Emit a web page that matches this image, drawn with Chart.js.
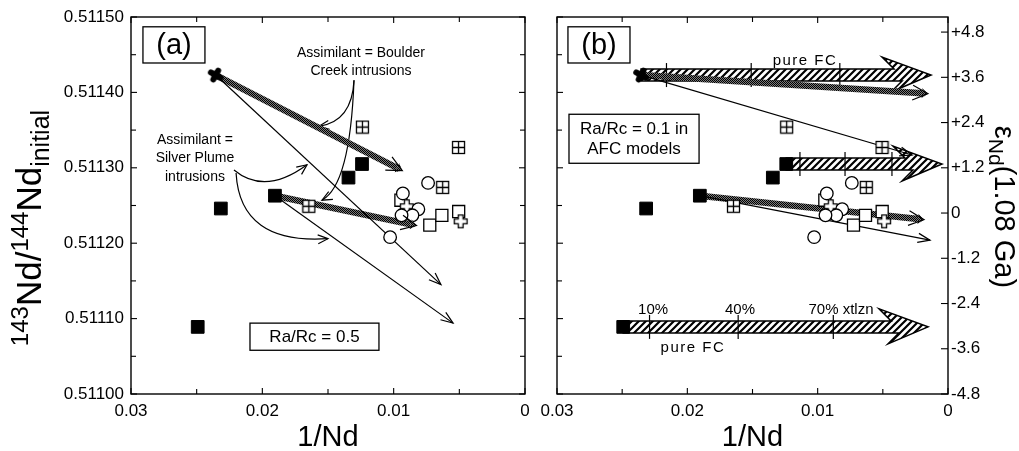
<!DOCTYPE html>
<html><head><meta charset="utf-8">
<script src="https://cdn.jsdelivr.net/npm/chart.js@4.4.1/dist/chart.umd.min.js"></script>
<style>
html,body{margin:0;padding:0;background:#fff;}
#wrap{position:relative;width:1019px;height:451px;overflow:hidden;background:#fff;}
canvas{position:absolute;top:0;}
#ca{left:0;width:540px;height:451px;}
#cb{left:540px;width:479px;height:451px;}
</style></head><body>
<div id="wrap"><canvas id="ca" width="540" height="451"></canvas><canvas id="cb" width="479" height="451"></canvas></div>
<script>
// ---------- DATA ----------
const xTicks = [0.03, 0.02, 0.01, 0];
const xTickLabels = ['0.03', '0.02', '0.01', '0'];
const xMinorTicks = [0.025, 0.015, 0.005];
const yTicks = [0.5110, 0.5111, 0.5112, 0.5113, 0.5114, 0.5115];
const yTickLabels = ['0.51100', '0.51110', '0.51120', '0.51130', '0.51140', '0.51150'];
const yMinorTicks = [0.51105, 0.51115, 0.51125, 0.51135, 0.51145];
const epsTicks = [-4.8, -3.6, -2.4, -1.2, 0, 1.2, 2.4, 3.6, 4.8];
const epsTickLabels = ['-4.8', '-3.6', '-2.4', '-1.2', '0', '+1.2', '+2.4', '+3.6', '+4.8'];

const starX = [0.02355];
const starY = [0.511423];
const filledX = [0.02316, 0.02492, 0.01904, 0.01344, 0.01241];
const filledY = [0.511246, 0.511089, 0.511263, 0.511287, 0.511305];
const crossSqX = [0.01238, 0.00506, 0.00627, 0.01646];
const crossSqY = [0.511354, 0.511327, 0.511274, 0.511249];
const circleX = [0.00738, 0.00930, 0.00812, 0.00857, 0.00940, 0.01027];
const circleY = [0.511280, 0.511266, 0.511245, 0.511237, 0.511237, 0.511208];
const openSqX = [0.00945, 0.00725, 0.00633, 0.00505];
const openSqY = [0.511257, 0.511224, 0.511237, 0.511242];
const plusX = [0.00900, 0.00490];
const plusY = [0.511249, 0.511229];

// AFC model trajectories (start = parent sample, end = arrow tip)
const afcStartX = [0.02355, 0.01904];
const afcStartY = [0.511423, 0.511263];
const afcA_thickEndX = [0.00975, 0.00871];
const afcA_thickEndY = [0.511300, 0.511225];
const afcA_thinEndX = [0.00640, 0.00548];
const afcA_thinEndY = [0.511145, 0.511094];
const afcB_thickEndX = [0.00200, 0.00230];
const afcB_thickEndY = [0.511399, 0.511232];
const afcB_thinEndX = [0.00276, 0.00138];
const afcB_thinEndY = [0.511317, 0.511204];
// pure FC vectors (panel b)
const fcStartX = [0.02355, 0.01241, 0.02492];
const fcY = [0.511423, 0.511305, 0.511089];
const fcEndX = [0.00130, 0.00046, 0.00153];
const fcMarks = [[0.0216, 0.0151, 0.0083], [0.01136, 0.0079, 0.0043], [0.0229, 0.0161, 0.0088]];

// ---------- STYLE ----------
const FONT = '"Liberation Sans", Arial, Helvetica, sans-serif';
const zip = (xs, ys) => xs.map((x, i) => ({x: x, y: ys[i]}));
const lab = (ticks, labels, v) => { const i = ticks.findIndex(t => Math.abs(t - v) < 1e-9); return i >= 0 ? labels[i] : ''; };

function makeImg(size, draw) { const c = document.createElement('canvas'); c.width = c.height = size; draw(c.getContext('2d'), size / 2); return c; }
const crossSqImg = makeImg(15, (g, c) => {
  g.fillStyle = '#fff'; g.fillRect(1.5, 1.5, 12, 12);
  g.strokeStyle = '#000'; g.lineWidth = 1.3; g.strokeRect(1.5, 1.5, 12, 12);
  g.beginPath(); g.moveTo(c, 1.5); g.lineTo(c, 13.5); g.moveTo(1.5, c); g.lineTo(13.5, c); g.stroke();
});
const plusImg = makeImg(16, (g, c) => {
  const a = 2.4, L = 6.4;
  const p = [[-a,-L],[a,-L],[a,-a],[L,-a],[L,a],[a,a],[a,L],[-a,L],[-a,a],[-L,a],[-L,-a],[-a,-a]];
  g.beginPath(); p.forEach((q, i) => i ? g.lineTo(c + q[0], c + q[1]) : g.moveTo(c + q[0], c + q[1])); g.closePath();
  g.fillStyle = '#fff'; g.fill(); g.strokeStyle = '#000'; g.lineWidth = 1.3; g.stroke();
});
const starImg = makeImg(22, (g, c) => {
  g.translate(c, c); g.rotate(0.5); g.fillStyle = '#000'; g.strokeStyle = '#000'; g.lineWidth = 6; g.lineCap = 'round';
  g.beginPath(); g.moveTo(-5.5, 0); g.lineTo(5.5, 0); g.moveTo(0, -5); g.lineTo(0, 5); g.stroke();
  g.beginPath(); g.arc(0, 0, 4.5, 0, Math.PI * 2); g.fill();
});
const tmp = document.createElement('canvas').getContext('2d');
const hatch = (() => { const c = document.createElement('canvas'); c.width = c.height = 7; const g = c.getContext('2d');
  g.fillStyle = '#fff'; g.fillRect(0, 0, 7, 7); g.strokeStyle = '#000'; g.lineWidth = 2.2;
  g.beginPath(); g.moveTo(-1, 8); g.lineTo(8, -1); g.moveTo(-1, 1); g.lineTo(1, -1); g.moveTo(6, 8); g.lineTo(8, 6); g.stroke();
  return tmp.createPattern(c, 'repeat'); })();
const stipple = (() => { const c = document.createElement('canvas'); c.width = c.height = 2; const g = c.getContext('2d');
  g.fillStyle = '#7a7a7a'; g.fillRect(0, 0, 2, 2); g.fillStyle = '#000'; g.fillRect(0, 0, 1, 1); g.fillRect(1, 1, 1, 1);
  return tmp.createPattern(c, 'repeat'); })();

function pointSets() {
  return [
    {data: zip(circleX, circleY), pointStyle: 'circle', pointRadius: 6.3, backgroundColor: '#fff', borderColor: '#000', borderWidth: 1.3},
    {data: zip(plusX, plusY), pointStyle: plusImg, pointRadius: 7},
    {data: zip(openSqX, openSqY), pointStyle: 'rect', pointRadius: 8.5, backgroundColor: '#fff', borderColor: '#000', borderWidth: 1.3},
    {data: zip(crossSqX, crossSqY), pointStyle: crossSqImg, pointRadius: 7},
    {data: zip(filledX, filledY), pointStyle: 'rect', pointRadius: 9, backgroundColor: '#000', borderColor: '#000', borderWidth: 1},
    {data: zip(starX, starY), pointStyle: starImg, pointRadius: 8}
  ];
}
function modelSets(thickX, thickY, thinX, thinY) {
  const out = [];
  afcStartX.forEach((sx, i) => {
    out.push({data: [{x: sx, y: afcStartY[i]}, {x: thinX[i], y: thinY[i]}], showLine: true, pointRadius: 0, borderColor: '#000', borderWidth: 1.2, fill: false});
    out.push({data: [{x: sx, y: afcStartY[i]}, {x: thickX[i], y: thickY[i]}], showLine: true, pointRadius: 0, borderColor: stipple, borderWidth: 6.5, borderCapStyle: 'butt', fill: false});
  });
  return out;
}

function xScale() {
  return {type: 'linear', reverse: true, min: 0, max: 0.03,
    afterBuildTicks: s => { s.ticks = xTicks.map(v => ({value: v})); },
    afterFit: s => { s.height = 57; s.paddingLeft = 0; s.paddingRight = 0; },
    grid: {display: false, drawTicks: false}, border: {display: false},
    ticks: {autoSkip: false, maxRotation: 0, minRotation: 0, padding: 7, color: '#000', font: {family: FONT, size: 17}, callback: v => lab(xTicks, xTickLabels, v)}};
}
function yScale(width, showLabels) {
  return {type: 'linear', position: 'left', min: 0.511, max: 0.5115,
    afterBuildTicks: s => { s.ticks = yTicks.map(v => ({value: v})); },
    afterFit: s => { s.width = width; s.paddingTop = 0; s.paddingBottom = 0; },
    grid: {display: false, drawTicks: false}, border: {display: false},
    ticks: {display: showLabels, autoSkip: false, padding: 7, color: '#000', font: {family: FONT, size: 17}, callback: v => lab(yTicks, yTickLabels, v)}};
}

// ---------- DRAW HELPERS ----------
const PX = (c, v) => c.scales.x.getPixelForValue(v);
const PY = (c, v) => c.scales.y.getPixelForValue(v);
function line(ctx, x1, y1, x2, y2) { ctx.beginPath(); ctx.moveTo(x1, y1); ctx.lineTo(x2, y2); ctx.stroke(); }
function head(ctx, x, y, ang, len, spread) {
  ctx.beginPath();
  ctx.moveTo(x - len * Math.cos(ang - spread), y - len * Math.sin(ang - spread));
  ctx.lineTo(x, y);
  ctx.lineTo(x - len * Math.cos(ang + spread), y - len * Math.sin(ang + spread));
  ctx.stroke();
}
function drawBox(c, b) {
  const ctx = c.ctx, x0 = PX(c, b.x0), x1 = PX(c, b.x1), y0 = PY(c, b.y0), y1 = PY(c, b.y1);
  ctx.fillStyle = '#fff'; ctx.fillRect(x0, y0, x1 - x0, y1 - y0);
  ctx.strokeStyle = '#000'; ctx.lineWidth = 1.3; ctx.strokeRect(x0, y0, x1 - x0, y1 - y0);
  ctx.fillStyle = '#000'; ctx.font = b.size + 'px ' + FONT; ctx.textAlign = 'center'; ctx.textBaseline = 'middle';
  const n = b.lines.length, cy = (y0 + y1) / 2;
  b.lines.forEach((t, i) => ctx.fillText(t, (x0 + x1) / 2, cy + (i - (n - 1) / 2) * b.lh + 1));
}
function drawText(c, t) {
  const ctx = c.ctx; ctx.fillStyle = '#000'; ctx.font = t.size + 'px ' + FONT;
  ctx.letterSpacing = (t.ls || 0) + 'px';
  ctx.textAlign = 'center'; ctx.textBaseline = 'middle'; ctx.fillText(t.t, PX(c, t.x), PY(c, t.y));
  ctx.letterSpacing = '0px';
}
function drawCurve(c, p) {
  const ctx = c.ctx; const P = p.map(q => [PX(c, q[0]), PY(c, q[1])]);
  ctx.strokeStyle = '#000'; ctx.lineWidth = 1.2;
  ctx.beginPath(); ctx.moveTo(P[0][0], P[0][1]); ctx.quadraticCurveTo(P[1][0], P[1][1], P[2][0], P[2][1]); ctx.stroke();
  head(ctx, P[2][0], P[2][1], Math.atan2(P[2][1] - P[1][1], P[2][0] - P[1][0]), 11, 0.42);
}
function drawFC(c, i) {
  const ctx = c.ctx, x0 = PX(c, fcStartX[i]), t = PX(c, fcEndX[i]), y = PY(c, fcY[i]), hh = 6;
  const pts = [[x0, y - hh], [t - 37, y - hh], [t - 49, y - 18], [t, y], [t - 40, y + 17], [t - 29, y + hh], [x0, y + hh]];
  ctx.beginPath(); pts.forEach((q, k) => k ? ctx.lineTo(q[0], q[1]) : ctx.moveTo(q[0], q[1])); ctx.closePath();
  ctx.fillStyle = hatch; ctx.fill(); ctx.strokeStyle = '#000'; ctx.lineWidth = 1.5; ctx.lineJoin = 'miter'; ctx.stroke();
  ctx.lineWidth = 1.2;
  fcMarks[i].forEach(v => { const x = PX(c, v); line(ctx, x, y - 12, x, y + 12); });
}
function drawFrame(c, epsAxis) {
  const ctx = c.ctx, a = c.chartArea;
  ctx.save(); ctx.strokeStyle = '#000'; ctx.lineWidth = 1.4;
  ctx.strokeRect(a.left, a.top, a.right - a.left, a.bottom - a.top);
  ctx.lineWidth = 1.1;
  const xt = (v, L) => { const x = PX(c, v); line(ctx, x, a.bottom, x, a.bottom - L); line(ctx, x, a.top, x, a.top + L); };
  xTicks.forEach(v => xt(v, 6)); xMinorTicks.forEach(v => xt(v, 5));
  const yt = (v, L) => { const y = PY(c, v); line(ctx, a.left, y, a.left + L, y); if (!epsAxis) line(ctx, a.right, y, a.right - L, y); };
  yTicks.forEach(v => yt(v, 6)); yMinorTicks.forEach(v => yt(v, 5));
  if (epsAxis) epsTicks.forEach(v => { const y = c.scales.y2.getPixelForValue(v); line(ctx, a.right, y, a.right - 7, y); });
  ctx.restore();
}
function modelHeads(c, thickX, thickY, thinX, thinY) {
  const ctx = c.ctx; ctx.save(); ctx.strokeStyle = '#000'; ctx.lineWidth = 1.2;
  afcStartX.forEach((sx, i) => {
    const x0 = PX(c, sx), y0 = PY(c, afcStartY[i]);
    let x1 = PX(c, thinX[i]), y1 = PY(c, thinY[i]);
    head(ctx, x1, y1, Math.atan2(y1 - y0, x1 - x0), 13, 0.36);
    x1 = PX(c, thickX[i]); y1 = PY(c, thickY[i]);
    const ang = Math.atan2(y1 - y0, x1 - x0);
    ctx.fillStyle = stipple; ctx.beginPath();
    ctx.moveTo(x1 + 6 * Math.cos(ang), y1 + 6 * Math.sin(ang));
    ctx.lineTo(x1 - 5 * Math.sin(ang), y1 + 5 * Math.cos(ang));
    ctx.lineTo(x1 + 5 * Math.sin(ang), y1 - 5 * Math.cos(ang)); ctx.closePath(); ctx.fill();
    head(ctx, x1 + 6 * Math.cos(ang), y1 + 6 * Math.sin(ang), ang, 17, 0.45);
  });
  ctx.restore();
}
function rich(ctx, parts, cx, cy, rot) {
  ctx.save(); ctx.translate(cx, cy); ctx.rotate(rot); ctx.fillStyle = '#000'; ctx.textBaseline = 'alphabetic'; ctx.textAlign = 'left';
  let W = 0; parts.forEach(p => { ctx.font = p.f + 'px ' + FONT; W += ctx.measureText(p.t).width; });
  let x = -W / 2; parts.forEach(p => { ctx.font = p.f + 'px ' + FONT; ctx.fillText(p.t, x, p.dy); x += ctx.measureText(p.t).width; });
  ctx.restore();
}

// ---------- ANNOTATION LAYOUT ----------
const annA = {
  boxes: [
    {x0: 0.02909, x1: 0.02437, y0: 0.511487, y1: 0.511439, lines: ['(a)'], size: 29, lh: 0},
    {x0: 0.02094, x1: 0.01112, y0: 0.511094, y1: 0.511058, lines: ['Ra/Rc = 0.5'], size: 17, lh: 0}
  ],
  texts: [
    {x: 0.01249, y: 0.511452, t: 'Assimilant = Boulder', size: 14},
    {x: 0.01249, y: 0.511428, t: 'Creek intrusions', size: 14},
    {x: 0.02513, y: 0.511337, t: 'Assimilant =', size: 14},
    {x: 0.02513, y: 0.511313, t: 'Silver Plume', size: 14},
    {x: 0.02513, y: 0.511288, t: 'intrusions', size: 14}
  ],
  curves: [
    [[0.01302, 0.511416], [0.01317, 0.511361], [0.01569, 0.511355]],
    [[0.01302, 0.511416], [0.01332, 0.511277], [0.01546, 0.511257]],
    [[0.02216, 0.511297], [0.01980, 0.511263], [0.01660, 0.511304]],
    [[0.02200, 0.511293], [0.02170, 0.511198], [0.01500, 0.511206]]
  ]
};
const annB = {
  boxes: [
    {x0: 0.02916, x1: 0.02440, y0: 0.511487, y1: 0.511439, lines: ['(b)'], size: 29, lh: 0},
    {x0: 0.02908, x1: 0.01910, y0: 0.511371, y1: 0.511306, lines: ['Ra/Rc = 0.1 in', 'AFC models'], size: 17, lh: 20}
  ],
  texts: [
    {x: 0.01097, y: 0.511442, t: 'pure FC', size: 15, ls: 1.5},
    {x: 0.02263, y: 0.511111, t: '10%', size: 15},
    {x: 0.01596, y: 0.511111, t: '40%', size: 15},
    {x: 0.00821, y: 0.511111, t: '70% xtlzn', size: 15},
    {x: 0.01957, y: 0.511061, t: 'pure FC', size: 15, ls: 1.5}
  ]
};

// ---------- CHART A ----------
new Chart(document.getElementById('ca'), {
  type: 'scatter',
  data: {datasets: pointSets().concat(modelSets(afcA_thickEndX, afcA_thickEndY, afcA_thinEndX, afcA_thinEndY))},
  options: {
    responsive: false, animation: false, devicePixelRatio: 1,
    layout: {padding: {top: 17, right: 15, left: 0, bottom: 0}},
    plugins: {legend: {display: false}, tooltip: {enabled: false}},
    scales: {x: xScale(), y: yScale(131, true)}
  },
  plugins: [{
    id: 'annA',
    beforeDatasetsDraw(c) {
      const ctx = c.ctx; ctx.save();
      annA.boxes.forEach(b => drawBox(c, b)); annA.texts.forEach(t => drawText(c, t)); annA.curves.forEach(p => drawCurve(c, p));
      ctx.restore();
    },
    afterDatasetsDraw(c) { modelHeads(c, afcA_thickEndX, afcA_thickEndY, afcA_thinEndX, afcA_thinEndY); drawFrame(c, false); },
    afterDraw(c) {
      const ctx = c.ctx, a = c.chartArea;
      ctx.save(); ctx.fillStyle = '#000'; ctx.font = '29px ' + FONT; ctx.textAlign = 'center'; ctx.textBaseline = 'alphabetic';
      ctx.fillText('1/Nd', (a.left + a.right) / 2, 446); ctx.restore();
      rich(ctx, [{t: '143', f: 24, dy: -13}, {t: 'Nd/', f: 35, dy: 0}, {t: '144', f: 24, dy: -13}, {t: 'Nd', f: 35, dy: 0}, {t: 'initial', f: 25, dy: 8}], 41, 228, -Math.PI / 2);
    }
  }]
});

// ---------- CHART B ----------
const yB = yScale(17, false);
new Chart(document.getElementById('cb'), {
  type: 'scatter',
  data: {datasets: pointSets().concat(modelSets(afcB_thickEndX, afcB_thickEndY, afcB_thinEndX, afcB_thinEndY))},
  options: {
    responsive: false, animation: false, devicePixelRatio: 1,
    layout: {padding: {top: 17, right: 0, left: 0, bottom: 0}},
    plugins: {legend: {display: false}, tooltip: {enabled: false}},
    scales: {
      x: xScale(), y: yB,
      y2: {type: 'linear', position: 'right', min: -4.8, max: 5.2,
        afterBuildTicks: s => { s.ticks = epsTicks.map(v => ({value: v})); },
        afterFit: s => { s.width = 71; s.paddingTop = 0; s.paddingBottom = 0; },
        grid: {display: false, drawTicks: false}, border: {display: false},
        ticks: {autoSkip: false, padding: 3, color: '#000', font: {family: FONT, size: 17}, callback: v => lab(epsTicks, epsTickLabels, v)}}
    }
  },
  plugins: [{
    id: 'annB',
    beforeDatasetsDraw(c) {
      const ctx = c.ctx; ctx.save();
      annB.boxes.forEach(b => drawBox(c, b));
      fcStartX.forEach((_, i) => drawFC(c, i));
      annB.texts.forEach(t => drawText(c, t));
      ctx.restore();
    },
    afterDatasetsDraw(c) { modelHeads(c, afcB_thickEndX, afcB_thickEndY, afcB_thinEndX, afcB_thinEndY); drawFrame(c, true); },
    afterDraw(c) {
      const ctx = c.ctx, a = c.chartArea;
      ctx.save(); ctx.fillStyle = '#000'; ctx.font = '29px ' + FONT; ctx.textAlign = 'center'; ctx.textBaseline = 'alphabetic';
      ctx.fillText('1/Nd', (a.left + a.right) / 2, 446); ctx.restore();
      rich(ctx, [{t: 'ε', f: 29, dy: 0}, {t: 'Nd', f: 21, dy: 6}, {t: '(1.08 Ga)', f: 29, dy: 0}], 455, 207, Math.PI / 2);
    }
  }]
});
</script></body></html>
